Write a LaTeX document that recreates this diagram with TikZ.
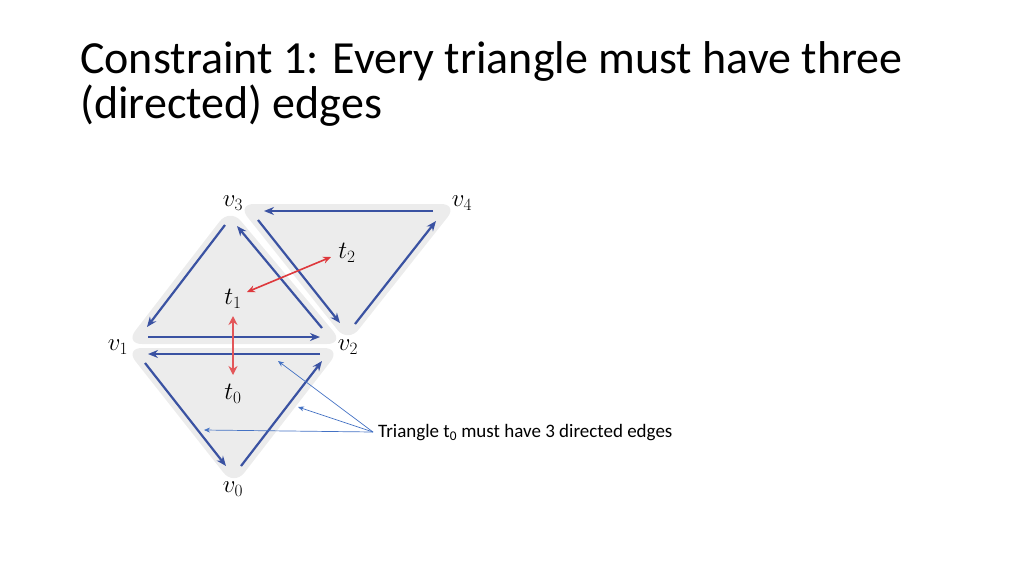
\documentclass[tikz,border=0pt]{standalone}
\usepackage{fontspec}
\setmainfont{Carlito}
\usetikzlibrary{arrows.meta}
\definecolor{edgeblue}{RGB}{58,82,162}
\definecolor{adjred}{RGB}{222,56,60}
\definecolor{trigray}{RGB}{236,236,236}
\definecolor{callblue}{RGB}{68,114,196}
\tikzset{
  tri/.style={fill=trigray,rounded corners=17pt},
  diredge/.style={draw=edgeblue,line width=2.2pt,-{Stealth[length=10pt,width=8pt]}},
  adj/.style={draw=adjred,line width=1.6pt,{Stealth[length=8pt,width=7pt]}-{Stealth[length=8pt,width=7pt]}},
  adjthick/.style={draw=adjred!85,line width=2.6pt,{Stealth[length=9pt,width=9pt]}-{Stealth[length=9pt,width=9pt]}},
  lab/.style={font=\fontsize{25}{25}\selectfont,inner sep=0pt},
  call/.style={draw=callblue,line width=0.7pt,-{Stealth[length=6pt,width=5pt]}},
}
\begin{document}
\begin{tikzpicture}[x=1pt,y=-1pt]
\useasboundingbox (0,0) rectangle (1024,576);
% title
\node[anchor=base west,inner sep=0pt,font=\fontsize{46}{48}\selectfont] (title1) at (80,73) {Constraint 1: Every triangle must have three};
\node[anchor=base west,inner sep=0pt,font=\fontsize{46}{48}\selectfont] (title2) at (80,118) {(directed) edges};
% gray triangles
\path[tri] (125,348) -- (341,348) -- (234,486) -- cycle;
\path[tri] (125,344) -- (344,344) -- (230,208) -- cycle;
\path[tri] (237,204) -- (458,204) -- (348,343) -- cycle;
% coordinates for edges
% t1
\coordinate (a1s) at (225,225); \coordinate (a1e) at (147,327);
\coordinate (b1s) at (148,337); \coordinate (b1e) at (320,337);
\coordinate (c1s) at (322,328); \coordinate (c1e) at (237,226);
% t0
\coordinate (a0s) at (320,354); \coordinate (a0e) at (148,354);
\coordinate (b0s) at (145,363); \coordinate (b0e) at (226,466);
\coordinate (c0s) at (241,466); \coordinate (c0e) at (322,361);
% t2
\coordinate (a2s) at (433,211); \coordinate (a2e) at (264,211);
\coordinate (b2s) at (258,220); \coordinate (b2e) at (340,323);
\coordinate (c2s) at (355,324); \coordinate (c2e) at (436,221);
\draw[diredge] (a1s) -- (a1e);
\draw[diredge] (b1s) -- (b1e);
\draw[diredge] (c1s) -- (c1e);
\draw[diredge] (a0s) -- (a0e);
\draw[diredge] (b0s) -- (b0e);
\draw[diredge] (c0s) -- (c0e);
\draw[diredge] (a2s) -- (a2e);
\draw[diredge] (b2s) -- (b2e);
\draw[diredge] (c2s) -- (c2e);
% labels
\node[lab] (v3) at (233,203) {$v_3$};
\node[lab] (v4) at (462,203) {$v_4$};
\node[lab] (v1) at (118,347) {$v_1$};
\node[lab] (v2) at (348,347) {$v_2$};
\node[lab] (v0) at (233,489) {$v_0$};
\node[lab] (t1) at (233,299) {$t_1$};
\node[lab] (t2) at (347,253) {$t_2$};
\node[lab] (t0) at (233,394) {$t_0$};
% red adjacency arrows
\coordinate (r1a) at (247,292); \coordinate (r1b) at (331,257);
\draw[adj] (r1a) -- (r1b);
\coordinate (r2a) at (233,316); \coordinate (r2b) at (233,375);
\draw[adjthick] (r2a) -- (r2b);
% callout
\node[anchor=west,inner sep=0pt,font=\fontsize{19}{21}\selectfont] (note) at (378,433) {Triangle t\textsubscript{0} must have 3 directed edges};
\coordinate (cs) at (373,432);
\coordinate (ce1) at (278,361);
\coordinate (ce2) at (298,407);
\coordinate (ce3) at (204,430);
\draw[call] (cs) -- (ce1);
\draw[call] (cs) -- (ce2);
\draw[call] (cs) -- (ce3);
\end{tikzpicture}
\end{document}
